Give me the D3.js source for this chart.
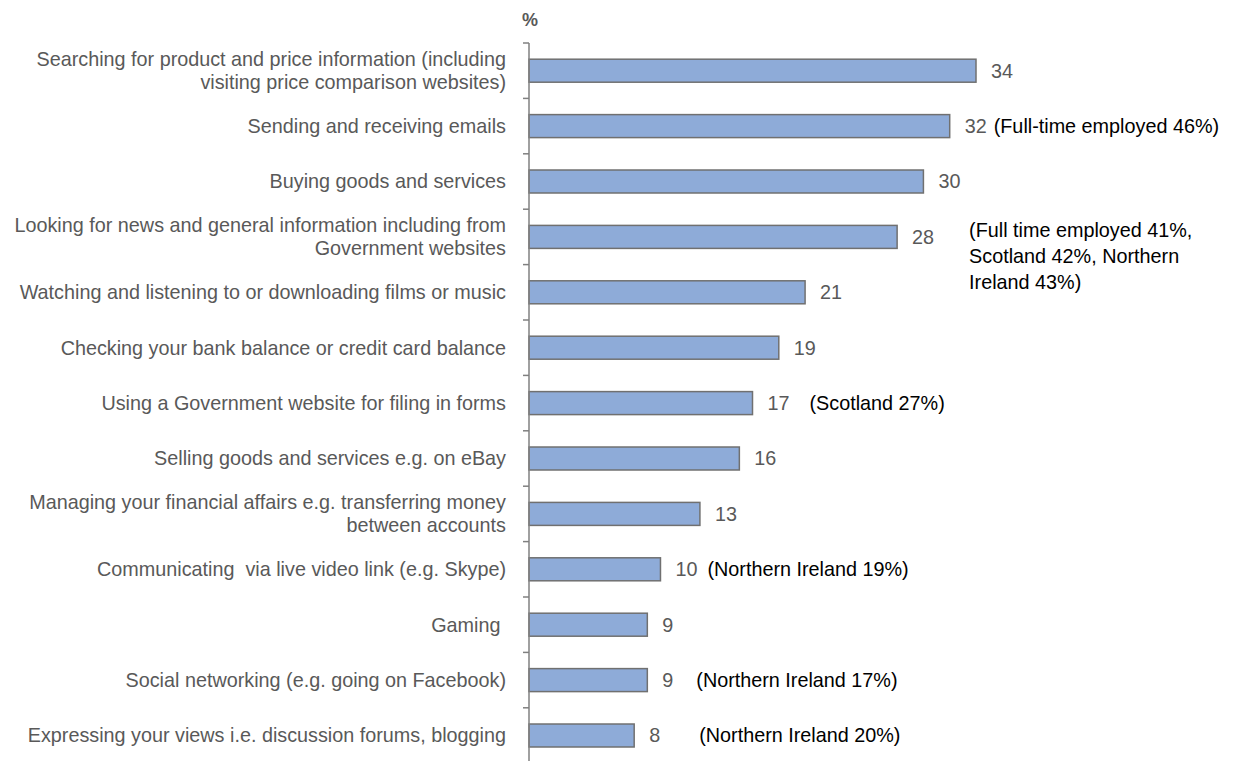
<!DOCTYPE html>
<html>
<head>
<meta charset="utf-8">
<script src="https://cdn.jsdelivr.net/npm/d3@7"></script>
<style>
  html, body { margin: 0; padding: 0; background: #fff; }
  svg { display: block; font-family: "Liberation Sans", Arial, sans-serif; }
</style>
</head>
<body>
<svg id="chart" width="1239" height="761"></svg>
<script>
// Activities (each label may wrap onto two lines)
const categories = [
  ["Searching for product and price information (including", "visiting price comparison websites)"],
  ["Sending and receiving emails"],
  ["Buying goods and services"],
  ["Looking for news and general information including from", "Government websites"],
  ["Watching and listening to or downloading films or music"],
  ["Checking your bank balance or credit card balance"],
  ["Using a Government website for filing in forms"],
  ["Selling goods and services e.g. on eBay"],
  ["Managing your financial affairs e.g. transferring money", "between accounts"],
  ["Communicating  via live video link (e.g. Skype)"],
  ["Gaming "],
  ["Social networking (e.g. going on Facebook)"],
  ["Expressing your views i.e. discussion forums, blogging"]
];
const values = [34, 32, 30, 28, 21, 19, 17, 16, 13, 10, 9, 9, 8];
// Sub-group notes, per row index
const notes = [
  { row: 1, lines: ["(Full-time employed 46%)"], gap: 44 },
  { row: 3, lines: ["(Full time employed 41%,", "Scotland 42%, Northern", "Ireland 43%)"], gap: 72 },
  { row: 6, lines: ["(Scotland 27%)"], gap: 57 },
  { row: 9, lines: ["(Northern Ireland 19%)"], gap: 47 },
  { row: 11, lines: ["(Northern Ireland 17%)"], gap: 49 },
  { row: 12, lines: ["(Northern Ireland 20%)"], gap: 65 }
];

const svg = d3.select("#chart");
const axisX = 529, plotTop = 43, bandStep = 55.4;
const fs = 19.8;

const x = d3.scaleLinear().domain([0, 34]).range([axisX, 976]);
const y = d3.scaleBand()
  .domain(d3.range(categories.length))
  .range([plotTop, plotTop + bandStep * categories.length])
  .paddingInner(0.585).paddingOuter(0.2925);

// Bars
svg.append("g").selectAll("rect")
  .data(values)
  .join("rect")
  .attr("x", x(0))
  .attr("y", (d, i) => y(i))
  .attr("width", d => x(d) - x(0))
  .attr("height", y.bandwidth())
  .attr("fill", "#8eabd8")
  .attr("stroke", "#707070")
  .attr("stroke-width", 1.5);

// Category axis with ticks between bands
const axisG = svg.append("g");
axisG.append("line")
  .attr("x1", axisX).attr("x2", axisX)
  .attr("y1", plotTop).attr("y2", plotTop + bandStep * categories.length)
  .attr("stroke", "#808080").attr("stroke-width", 1.5);
axisG.selectAll("line.tick")
  .data(d3.range(categories.length + 1))
  .join("line")
  .attr("class", "tick")
  .attr("x1", axisX - 6).attr("x2", axisX)
  .attr("y1", i => plotTop + bandStep * i).attr("y2", i => plotTop + bandStep * i)
  .attr("stroke", "#808080").attr("stroke-width", 1.5);

// Category labels
const lineH = 23;
axisG.selectAll("text.cat")
  .data(categories)
  .join("text")
  .attr("class", "cat")
  .attr("text-anchor", "end")
  .attr("fill", "#595959")
  .attr("font-size", fs)
  .attr("xml:space", "preserve")
  .each(function (lines, i) {
    const cy = y(i) + y.bandwidth() / 2;
    const t = d3.select(this);
    lines.forEach((ln, k) => {
      t.append("tspan")
        .attr("x", 506)
        .attr("y", cy + (k - (lines.length - 1) / 2) * lineH)
        .attr("dy", "0.35em")
        .text(ln);
    });
  });

// Value labels
svg.append("g").selectAll("text")
  .data(values)
  .join("text")
  .attr("x", d => x(d) + 15)
  .attr("y", (d, i) => y(i) + y.bandwidth() / 2)
  .attr("dy", "0.35em")
  .attr("fill", "#595959")
  .attr("font-size", fs)
  .text(d => d);

// Sub-group notes
svg.append("g").selectAll("text")
  .data(notes)
  .join("text")
  .attr("fill", "#000")
  .attr("font-size", fs)
  .each(function (n) {
    const cy = y(n.row) + y.bandwidth() / 2;
    const t = d3.select(this);
    const startY = n.lines.length > 1 ? cy - 7 : cy;
    n.lines.forEach((ln, k) => {
      t.append("tspan")
        .attr("x", x(values[n.row]) + n.gap)
        .attr("y", startY + k * 26)
        .attr("dy", "0.35em")
        .text(ln);
    });
  });

// Unit label
svg.append("text")
  .attr("x", 530).attr("y", 20)
  .attr("text-anchor", "middle")
  .attr("dy", "0.35em")
  .attr("fill", "#595959")
  .attr("font-size", 18)
  .attr("font-weight", "bold")
  .text("%");
</script>
</body>
</html>
